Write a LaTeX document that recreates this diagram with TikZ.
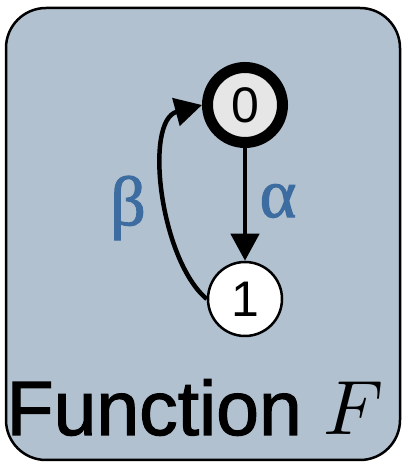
\documentclass[tikz,border=0pt]{standalone}
\usepackage{fontspec}
\setmainfont{Liberation Sans}
\newfontfamily\greekfont{Liberation Serif}[FakeBold=1.5]
\newfontfamily\titlefont{Liberation Sans}[FakeBold=1.5]
\usetikzlibrary{arrows.meta}
\definecolor{panelblue}{RGB}{177,193,207}
\definecolor{labelblue}{RGB}{60,108,160}
\definecolor{stategray}{RGB}{230,230,230}
\tikzset{
  state/.style={circle,draw,inner sep=0pt,font=\fontsize{50}{50}\selectfont},
  flow/.style={->,line width=4.5pt}
}
% math italic F at title size
\newcommand{\bigF}{{\fontsize{10}{10}\selectfont\scalebox{7.7}{$F$}}}

\begin{document}
\begin{tikzpicture}[x=1pt,y=1pt,>={Triangle[length=27pt,width=28pt]}]
  \useasboundingbox (0,0) rectangle (402,462);
  \draw[line width=2.5pt,rounded corners=40pt,fill=panelblue](6,2)rectangle(400,454);
  \node[state,line width=11pt,fill=stategray,minimum size=75pt] (s0) at (245,357) {0};
  \node[state,line width=2.5pt,fill=white,minimum size=74pt] (s1) at (245,163) {1};
  \draw[flow] (s0) -- (s1);
  \draw[flow] (s1.west) to[out=140,in=195,looseness=0.8] (s0.west);
  \foreach \n/\x/\y/\g in {alpha/278/261/α,beta/128/254/β}
  {
    \node[text=labelblue,font=\greekfont\fontsize{70}{70}\selectfont] (\n) at (\x,\y) {\g};
  }
  \node[anchor=base,font=\titlefont\fontsize{77}{77}\selectfont] (title) at (195,27) {Function \bigF};
\end{tikzpicture}
\end{document}
